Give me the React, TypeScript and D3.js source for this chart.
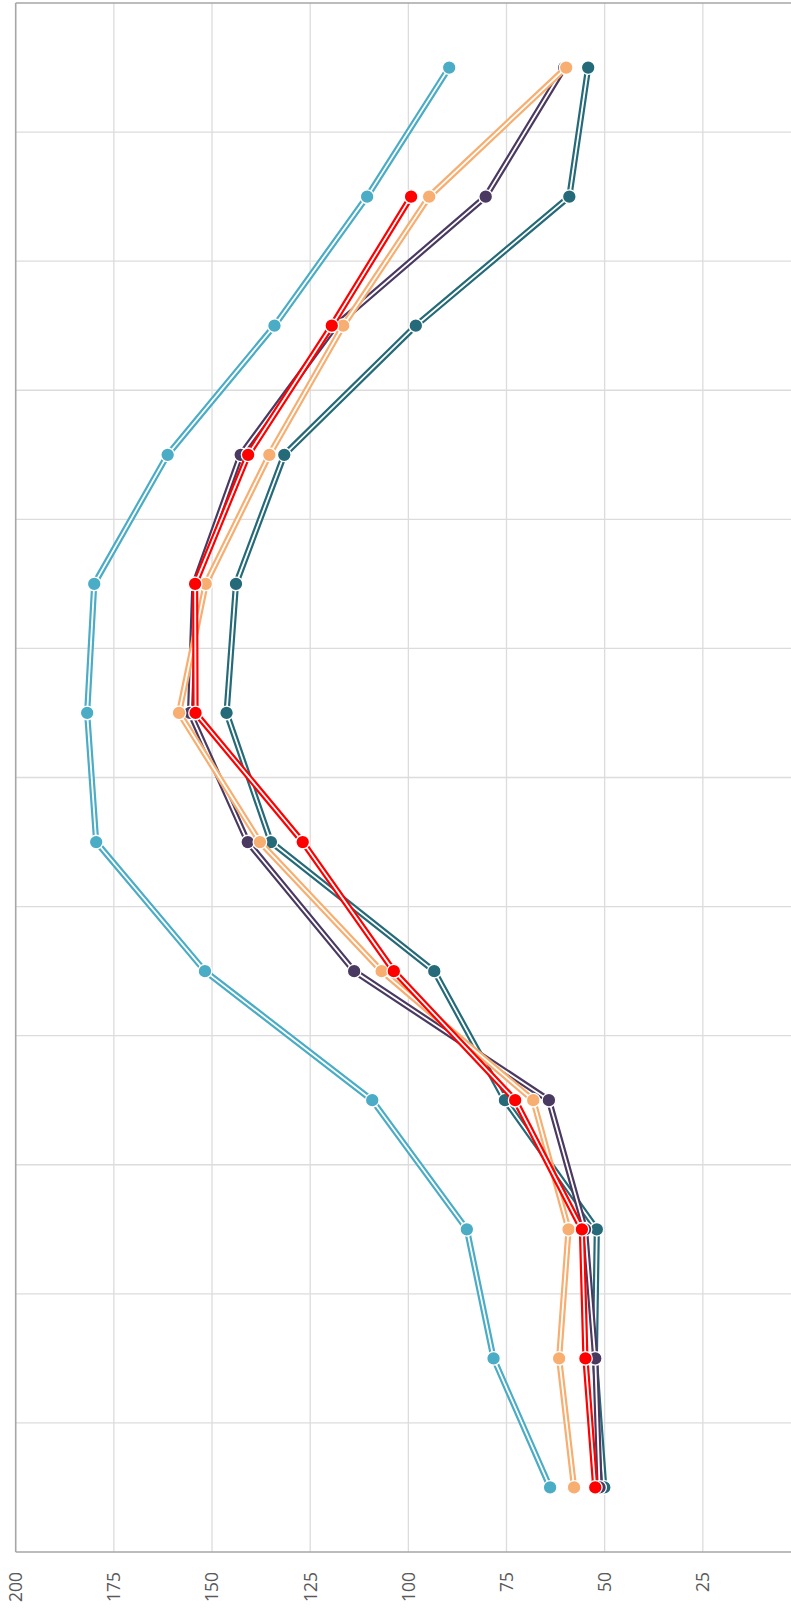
import { useEffect, useRef } from "react";
import * as d3 from "d3";

const WIDTH = 791;
const HEIGHT = 1610;
// plot box (value axis runs right-to-left, categories bottom-to-top)
const PLOT = { left: 15.7, top: 3, bottom: 1552, zeroX: 801 };

const categories = ["1", "2", "3", "4", "5", "6", "7", "8", "9", "10", "11", "12"];
const valueTicks = [200, 175, 150, 125, 100, 75, 50, 25];

const blueValues = [63.9, 78.3, 85.1, 109.2, 151.8, 179.5, 181.8, 180.0, 161.3, 134.1, 110.5, 89.6];
const tealValues = [50.1, 52.5, 52.0, 75.4, 93.4, 135.0, 146.3, 143.9, 131.6, 98.1, 59.0, 54.2];
const purpleValues = [51.3, 52.4, 55.0, 64.2, 113.8, 140.9, 155.6, 154.5, 142.7, 118.5, 80.3, 60.3];
const orangeValues = [57.8, 61.6, 59.2, 68.2, 106.8, 137.8, 158.4, 151.6, 135.4, 116.6, 94.7, 59.8];
const redValues = [52.4, 54.9, 55.8, 72.8, 103.7, 126.9, 154.2, 154.3, 140.8, 119.5, 99.3, null];

const series = [
  { name: "blue", color: "#4BACC6", values: blueValues },
  { name: "teal", color: "#256A79", values: tealValues },
  { name: "purple", color: "#4A3A62", values: purpleValues },
  { name: "orange", color: "#F7AE70", values: orangeValues },
  { name: "red", color: "#FF0000", values: redValues },
];

const App = () => {
  const svgRef = useRef(null);

  useEffect(() => {
    const svg = d3.select(svgRef.current);
    svg.selectAll("*").remove();

    const xScale = d3.scaleLinear().domain([0, 200]).range([PLOT.zeroX, PLOT.left]);
    const yScale = d3
      .scaleBand()
      .domain(categories)
      .range([PLOT.bottom, PLOT.top])
      .paddingInner(0)
      .paddingOuter(0);
    const yMid = (c: string) => (yScale(c) as number) + yScale.bandwidth() / 2;

    // gridlines
    const grid = svg.append("g").attr("stroke", "#DCDCDC").attr("stroke-width", 1.3);
    valueTicks
      .filter((t) => t !== 200)
      .forEach((t) => {
        grid
          .append("line")
          .attr("x1", xScale(t))
          .attr("x2", xScale(t))
          .attr("y1", PLOT.top)
          .attr("y2", PLOT.bottom);
      });
    categories.forEach((c) => {
      const y = yScale(c) as number;
      if (y <= PLOT.top + 1) return;
      grid
        .append("line")
        .attr("x1", PLOT.left)
        .attr("x2", WIDTH)
        .attr("y1", y)
        .attr("y2", y);
    });

    // frame lines
    const frame = svg.append("g").attr("stroke", "#A6A6A6").attr("stroke-width", 1.6);
    frame.append("line").attr("x1", PLOT.left).attr("x2", WIDTH).attr("y1", PLOT.top).attr("y2", PLOT.top);
    frame.append("line").attr("x1", PLOT.left).attr("x2", WIDTH).attr("y1", PLOT.bottom).attr("y2", PLOT.bottom);
    frame.append("line").attr("x1", PLOT.left).attr("x2", PLOT.left).attr("y1", PLOT.top).attr("y2", PLOT.bottom);

    // value tick labels, rotated
    svg
      .append("g")
      .selectAll("text")
      .data(valueTicks)
      .join("text")
      .attr("transform", (d) => `translate(${xScale(d)}, ${PLOT.bottom + 20}) rotate(-90)`)
      .attr("text-anchor", "end")
      .attr("dy", "0.36em")
      .attr("font-family", "'Open Sans', sans-serif")
      .attr("font-size", 17.5)
      .attr("fill", "#595959")
      .text((d) => d);

    // series: double lines + markers
    const line = d3
      .line<number | null>()
      .defined((d) => d !== null)
      .x((d) => xScale(d as number))
      .y((_, i) => yMid(categories[i]))
      .curve(d3.curveLinear);

    series.forEach((s) => {
      const g = svg.append("g");
      g.append("path")
        .attr("d", line(s.values))
        .attr("fill", "none")
        .attr("stroke", s.color)
        .attr("stroke-width", 6.2)
        .attr("stroke-linejoin", "round");
      g.append("path")
        .attr("d", line(s.values))
        .attr("fill", "none")
        .attr("stroke", "#FFFFFF")
        .attr("stroke-width", 1.8)
        .attr("stroke-linejoin", "round");
      g.selectAll("circle")
        .data(s.values.map((v, i) => ({ v, c: categories[i] })).filter((d) => d.v !== null))
        .join("circle")
        .attr("cx", (d) => xScale(d.v as number))
        .attr("cy", (d) => yMid(d.c))
        .attr("r", 6.8)
        .attr("fill", s.color)
        .attr("stroke", "#FFFFFF")
        .attr("stroke-width", 1.3);
    });
  }, []);

  return (
    <div style={{ position: "absolute", left: 0, top: 0 }}>
      <svg
        ref={svgRef}
        width={WIDTH}
        height={HEIGHT}
        style={{ display: "block", background: "#FFFFFF", overflow: "hidden" }}
      ></svg>
    </div>
  );
};

export default App;
